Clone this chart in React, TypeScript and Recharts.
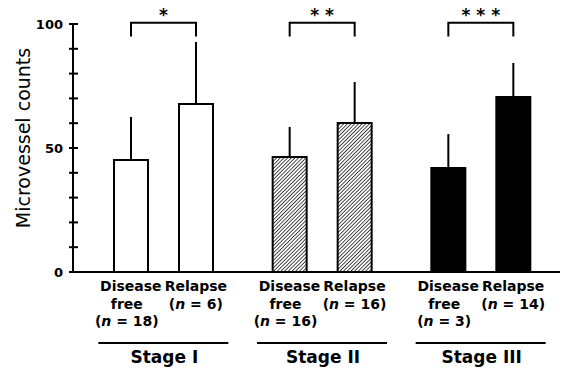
import { Bar, BarChart, Cell, ErrorBar, Rectangle, XAxis, YAxis } from "recharts";

const stages = ["Stage I", "Stage II", "Stage III"];
const diseaseFree = [45.2, 46.4, 41.9];
const diseaseFreeSd = [17.3, 12.1, 13.7];
const relapse = [67.7, 60.1, 70.6];
const relapseSd = [25.0, 16.5, 13.7];
const diseaseFreeN = [18, 16, 3];
const relapseN = [6, 16, 14];
const significance = ["*", "**", "***"];
const yTicks = [0, 10, 20, 30, 40, 50, 60, 70, 80, 90, 100];
const yLabelTicks = [0, 50, 100];
const bracketTop = 100.5;
const bracketLeg = 95;

const data = stages.map((stage, i) => ({
  stage,
  diseaseFree: diseaseFree[i],
  diseaseFreeErr: [0, diseaseFreeSd[i]],
  relapse: relapse[i],
  relapseErr: [0, relapseSd[i]],
}));

const stageFills = ["#ffffff", "url(#hatch)", "#000000"];
const BAR_SIZE = 34;
const BAR_GAP = 31;
const FONT = "'DejaVu Sans', sans-serif";

// relapse bar + the significance bracket that links it to the disease-free bar
const RelapseShape = (props: any) => {
  const { x, y, width, height, payload, index } = props;
  const perUnit = height / payload.relapse;
  const base = y + height;
  const yTop = base - bracketTop * perUnit;
  const yLeg = base - bracketLeg * perUnit;
  const right = x + width / 2;
  const left = right - (BAR_SIZE + BAR_GAP);
  return (
    <g>
      <Rectangle {...props} />
      <path
        d={`M${left},${yLeg}V${yTop}H${right}V${yLeg}`}
        fill="none"
        stroke="#000"
        strokeWidth={2}
      />
      <text
        x={(left + right) / 2}
        y={yTop - 2}
        textAnchor="middle"
        fontFamily={FONT}
        fontWeight="bold"
        fontSize={17}
        letterSpacing={0}
        fill="#000"
      >
        {significance[index].split("").join(" ")}
      </text>
    </g>
  );
};

const StageTick = (props: any) => {
  const { x, y, payload } = props;
  const i = payload.index;
  const d = (BAR_SIZE + BAR_GAP) / 2;
  const sub = { fontFamily: FONT, fontWeight: "bold", fontSize: 14, fill: "#000", textAnchor: "middle" } as any;
  return (
    <g>
      <text {...sub} x={x - d} y={y + 19}>Disease</text>
      <text {...sub} x={x - d - 4} y={y + 37}>free</text>
      <text {...sub} x={x - d - 4} y={y + 54}>
        (<tspan fontStyle="italic">n</tspan> = {diseaseFreeN[i]})
      </text>
      <text {...sub} x={x + d} y={y + 19}>Relapse</text>
      <text {...sub} x={x + d} y={y + 37}>
        (<tspan fontStyle="italic">n</tspan> = {relapseN[i]})
      </text>
      <line x1={x - 65} x2={x + 65} y1={y + 71} y2={y + 71} stroke="#000" strokeWidth={2} />
      <text x={x + 1} y={y + 91} textAnchor="middle" fontFamily={FONT} fontWeight="bold" fontSize={17} fill="#000">
        {payload.value}
      </text>
    </g>
  );
};

const CountTick = (props: any) => {
  const { x, y, payload } = props;
  return (
    <g>
      <line x1={x - 4} x2={x + 5} y1={y} y2={y} stroke="#000" strokeWidth={2} />
      {yLabelTicks.includes(payload.value) && (
        <text x={x - 10} y={y} dy="0.35em" textAnchor="end" fontFamily={FONT} fontWeight="bold" fontSize={13} fill="#000">
          {payload.value}
        </text>
      )}
    </g>
  );
};

const renderYLabel = (props: any) => {
  const { viewBox } = props;
  const cx = viewBox.x + 30;
  const cy = viewBox.y + viewBox.height / 2 - 10;
  return (
    <text
      x={cx}
      y={cy}
      transform={`rotate(-90, ${cx}, ${cy})`}
      textAnchor="middle"
      fontFamily={FONT}
      fontSize={19}
      fill="#000"
    >
      Microvessel counts
    </text>
  );
};

export default function App() {
  return (
    <div style={{ position: "absolute", left: 0, top: 0, background: "#fff" }}>
      <BarChart
        width={562}
        height={374}
        data={data}
        margin={{ top: 24, right: 2, left: 0, bottom: 0 }}
        barSize={BAR_SIZE}
        barGap={BAR_GAP}
      >
        <defs>
          <pattern id="hatch" width="2.6" height="2.6" patternUnits="userSpaceOnUse" patternTransform="rotate(45)">
            <rect width="2.6" height="2.6" fill="#fff" />
            <line x1="0" y1="0" x2="0" y2="2.6" stroke="#000" strokeWidth={1.4} />
          </pattern>
        </defs>
        <XAxis
          dataKey="stage"
          height={102}
          padding={{ left: 11, right: 0 }}
          axisLine={{ stroke: "#000", strokeWidth: 2 }}
          tickLine={false}
          tickSize={0}
          tickMargin={0}
          tick={<StageTick />}
          interval={0}
        />
        <YAxis
          width={73}
          domain={[0, 100]}
          ticks={yTicks}
          axisLine={{ stroke: "#000", strokeWidth: 2 }}
          tickLine={false}
          tickSize={0}
          tickMargin={0}
          tick={<CountTick />}
          interval={0}
          label={renderYLabel}
        />
        <Bar dataKey="diseaseFree" stroke="#000" strokeWidth={2} isAnimationActive={false}>
          {data.map((d, i) => (
            <Cell key={d.stage} fill={stageFills[i]} />
          ))}
          <ErrorBar dataKey="diseaseFreeErr" width={0} stroke="#000" strokeWidth={2} direction="y" />
        </Bar>
        <Bar dataKey="relapse" stroke="#000" strokeWidth={2} isAnimationActive={false} shape={RelapseShape}>
          {data.map((d, i) => (
            <Cell key={d.stage} fill={stageFills[i]} />
          ))}
          <ErrorBar dataKey="relapseErr" width={0} stroke="#000" strokeWidth={2} direction="y" />
        </Bar>
      </BarChart>
    </div>
  );
}
